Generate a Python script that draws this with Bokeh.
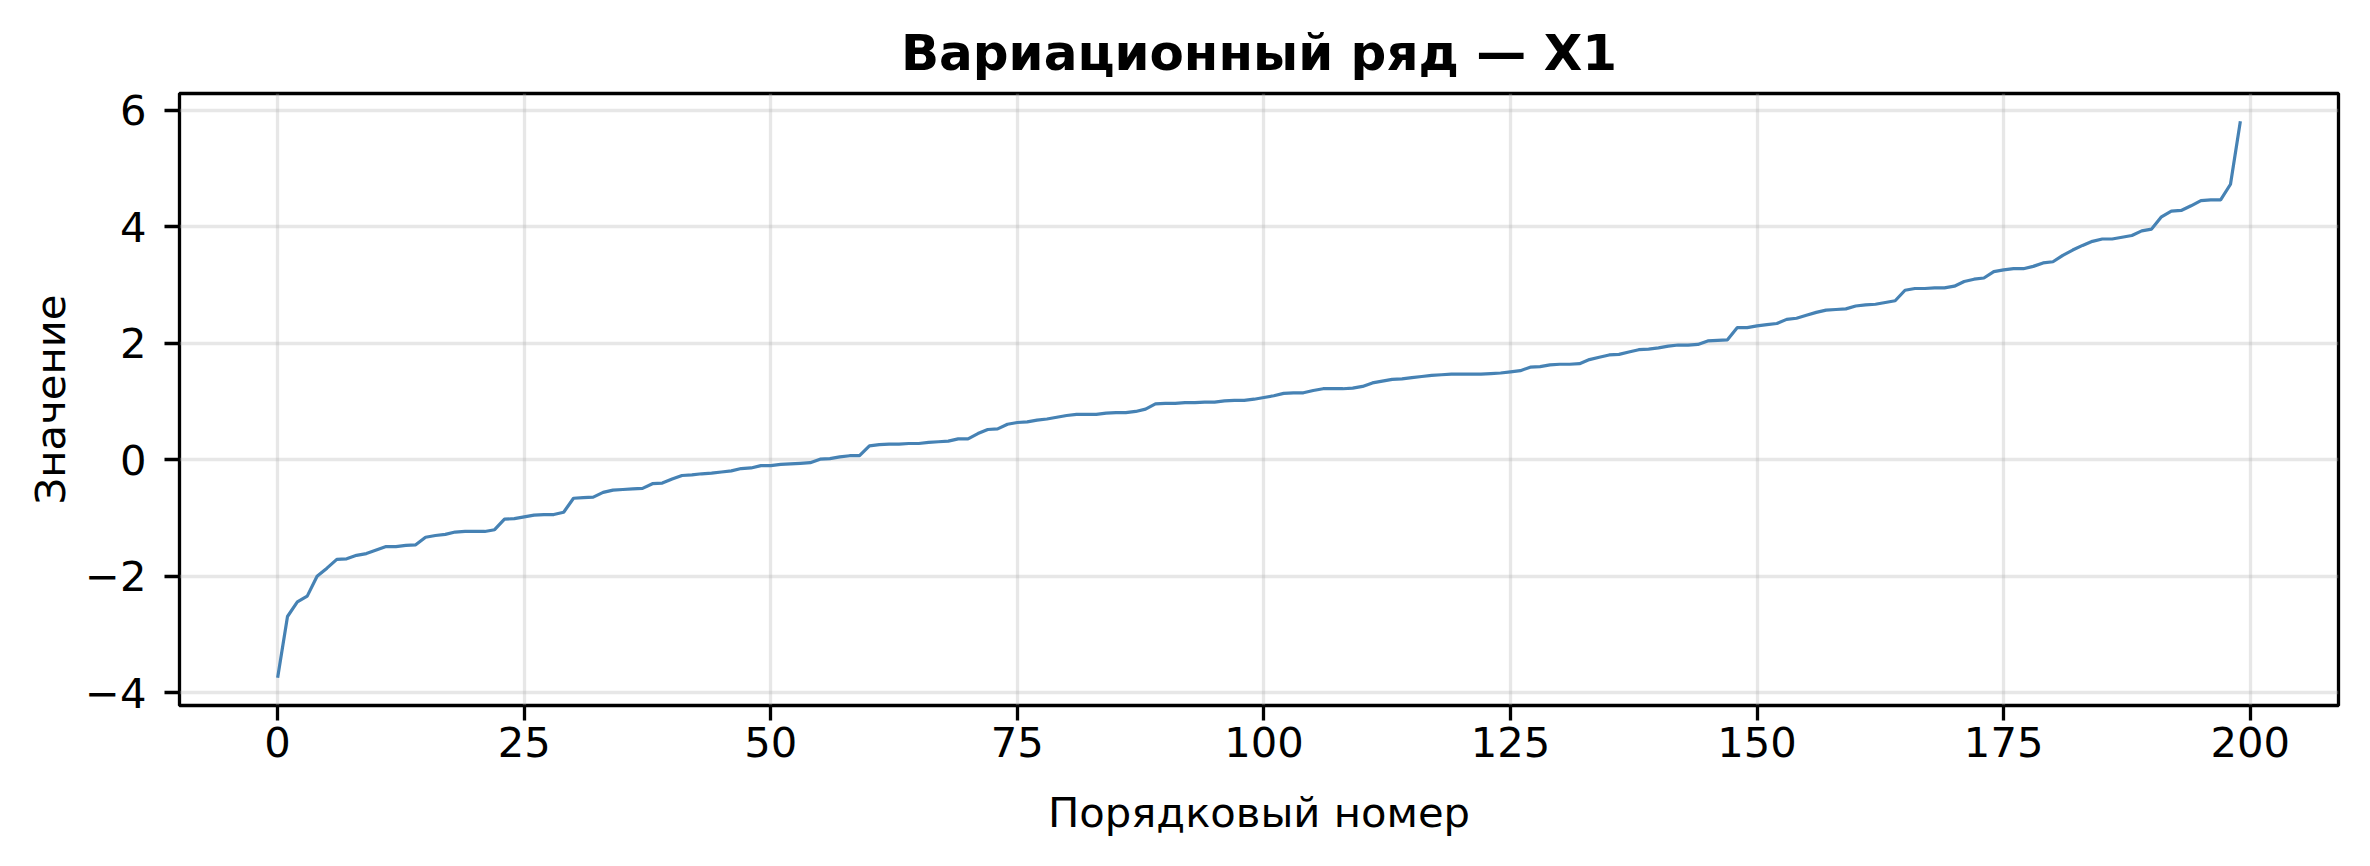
from bokeh.plotting import figure
from bokeh.models import Range1d, FixedTicker, CustomJSTickFormatter, ColumnDataSource
from bokeh.embed import file_html
from bokeh.resources import INLINE

title_text = "Вариационный ряд — X1"
x_label = "Порядковый номер"
y_label = "Значение"

x_ticks = [0, 25, 50, 75, 100, 125, 150, 175, 200]
y_ticks = [-4, -2, 0, 2, 4, 6]

values = [
    -3.74, -2.69, -2.44, -2.34, -2.00, -1.86, -1.71, -1.70, -1.64, -1.61,
    -1.55, -1.49, -1.49, -1.47, -1.46, -1.33, -1.30, -1.28, -1.24, -1.23,
    -1.23, -1.23, -1.20, -1.02, -1.01, -0.98, -0.95, -0.94, -0.94, -0.90,
    -0.66, -0.65, -0.64, -0.56, -0.52, -0.51, -0.50, -0.49, -0.41, -0.40,
    -0.33, -0.27, -0.26, -0.24, -0.23, -0.21, -0.19, -0.15, -0.14, -0.10,
    -0.10, -0.08, -0.07, -0.06, -0.05, 0.01, 0.02, 0.05, 0.07, 0.07,
    0.24, 0.26, 0.27, 0.27, 0.28, 0.28, 0.30, 0.31, 0.32, 0.36,
    0.36, 0.45, 0.52, 0.53, 0.61, 0.64, 0.65, 0.68, 0.70, 0.73,
    0.76, 0.78, 0.78, 0.78, 0.80, 0.81, 0.81, 0.83, 0.87, 0.96,
    0.97, 0.97, 0.98, 0.98, 0.99, 0.99, 1.01, 1.02, 1.02, 1.04,
    1.07, 1.10, 1.14, 1.15, 1.15, 1.19, 1.22, 1.22, 1.22, 1.23,
    1.26, 1.32, 1.35, 1.38, 1.39, 1.41, 1.43, 1.45, 1.46, 1.47,
    1.47, 1.47, 1.47, 1.48, 1.49, 1.51, 1.53, 1.59, 1.60, 1.63,
    1.64, 1.64, 1.65, 1.72, 1.76, 1.80, 1.81, 1.85, 1.89, 1.90,
    1.92, 1.95, 1.97, 1.97, 1.98, 2.04, 2.05, 2.06, 2.27, 2.27,
    2.30, 2.32, 2.34, 2.41, 2.43, 2.48, 2.53, 2.57, 2.58, 2.59,
    2.64, 2.66, 2.67, 2.70, 2.73, 2.91, 2.94, 2.94, 2.95, 2.95,
    2.98, 3.06, 3.10, 3.12, 3.23, 3.26, 3.28, 3.28, 3.32, 3.38,
    3.40, 3.51, 3.60, 3.68, 3.75, 3.79, 3.79, 3.82, 3.85, 3.93,
    3.96, 4.17, 4.27, 4.28, 4.36, 4.45, 4.46, 4.46, 4.73, 5.81,
]
index = list(range(len(values)))

# matplotlib-like 5% margins
n = len(values)
xpad = 0.05 * (n - 1)
ymin, ymax = min(values), max(values)
ypad = 0.05 * (ymax - ymin)

FONT = "DejaVu Sans"
LW = 3.3

p = figure(
    width=2354, height=850,
    output_backend="svg", toolbar_location=None,
    x_range=Range1d(-xpad, (n - 1) + xpad),
    y_range=Range1d(ymin - ypad, ymax + ypad),
    min_border_left=179, min_border_right=16,
    min_border_top=93, min_border_bottom=145,
    background_fill_color="white", border_fill_color="white",
)

p.outline_line_color = "black"
p.outline_line_width = LW
p.outline_line_alpha = 1.0

p.title.text = title_text
p.title.align = "center"
p.title.text_font = FONT
p.title.text_font_size = "50px"
p.title.text_font_style = "bold"
p.title.text_color = "black"
p.title.standoff = 24

src = ColumnDataSource(data=dict(x=index, y=values))
p.line("x", "y", source=src, line_color="#4682b4", line_width=3.2)

minus_fmt = CustomJSTickFormatter(code="""
    return (tick < 0 ? '\\u2212' : '') + Math.abs(tick).toFixed(0);
""")

p.xaxis.ticker = FixedTicker(ticks=x_ticks)
p.yaxis.ticker = FixedTicker(ticks=y_ticks)
p.yaxis.formatter = minus_fmt
p.xaxis.formatter = minus_fmt

for ax in (p.xaxis[0], p.yaxis[0]):
    ax.axis_line_color = None
    ax.major_tick_out = 15
    ax.major_tick_in = 0
    ax.major_tick_line_width = LW
    ax.major_tick_line_color = "black"
    ax.minor_tick_line_color = None
    ax.major_label_text_font = FONT
    ax.major_label_text_font_size = "41.7px"
    ax.major_label_text_color = "black"
    ax.axis_label_text_font = FONT
    ax.axis_label_text_font_size = "41.7px"
    ax.axis_label_text_font_style = "normal"
    ax.axis_label_text_color = "black"

p.xaxis.axis_label = x_label
p.yaxis.axis_label = y_label
p.xaxis.major_label_standoff = 6
p.yaxis.major_label_standoff = 18
p.xaxis.axis_label_standoff = 28
p.yaxis.axis_label_standoff = 7

for g in (p.xgrid[0], p.ygrid[0]):
    g.grid_line_color = "#b0b0b0"
    g.grid_line_alpha = 0.3
    g.grid_line_width = LW
p.xgrid.ticker = FixedTicker(ticks=x_ticks)
p.ygrid.ticker = FixedTicker(ticks=y_ticks)

open("out.html", "w").write(file_html(p, INLINE))
